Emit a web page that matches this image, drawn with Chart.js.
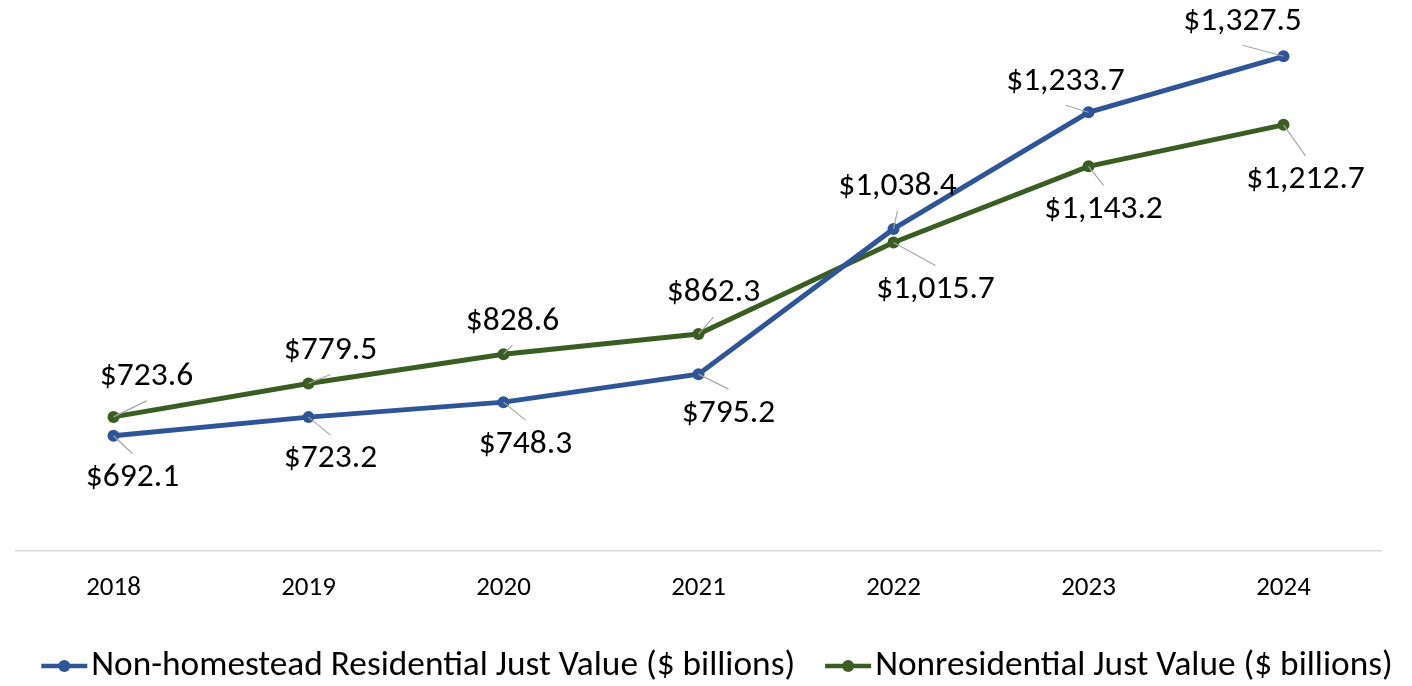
<!DOCTYPE html>
<html>
<head>
<meta charset="utf-8">
<script src="https://cdn.jsdelivr.net/npm/chart.js@4.4.1/dist/chart.umd.min.js"></script>
<style>
  html, body { margin: 0; padding: 0; background: #fff; }
</style>
</head>
<body>
<canvas id="chart" width="1412" height="686"></canvas>
<script>
const years = ['2018', '2019', '2020', '2021', '2022', '2023', '2024'];
const residential = [692.1, 723.2, 748.3, 795.2, 1038.4, 1233.7, 1327.5];
const nonresidential = [723.6, 779.5, 828.6, 862.3, 1015.7, 1143.2, 1212.7];
const seriesNames = ['Non-homestead Residential Just Value ($ billions)', 'Nonresidential Just Value ($ billions)'];

// where each data label sits relative to its point (px)
const residentialOffsets = [[19, 42], [22, 42], [22, 42], [30, 39], [4, -42], [-23, -31], [-41, -35]];
const nonresidentialOffsets = [[33, -40], [22, -33], [9, -33], [15, -41], [42, 47], [15, 43], [22, 55]];

const BLUE = '#2f5597';
const GREEN = '#3b5d24';
const FONT = 'Carlito, Calibri, "Open Sans", sans-serif';

function fmt(v) {
    return '$' + v.toLocaleString('en-US', {minimumFractionDigits: 1, maximumFractionDigits: 1});
}

const labelPlugin = {
    id: 'leaderLabels',
    afterDatasetsDraw(chart) {
        const ctx = chart.ctx;
        const offsets = [residentialOffsets, nonresidentialOffsets];
        ctx.save();
        ctx.font = '33.5px ' + FONT;
        ctx.textAlign = 'center';
        ctx.textBaseline = 'middle';
        chart.data.datasets.forEach((ds, i) => {
            const meta = chart.getDatasetMeta(i);
            meta.data.forEach((pt, j) => {
                const [dx, dy] = offsets[i][j];
                const cx = pt.x + dx, cy = pt.y + dy;
                // leader line: point -> middle of the label box edge that faces it
                const ex = cx;
                const ey = dy < 0 ? cy + 24 : cy - 24;
                if (Math.hypot(ex - pt.x, ey - pt.y) > 8) {
                    ctx.strokeStyle = '#a6a6a6';
                    ctx.lineWidth = 1.2;
                    ctx.beginPath();
                    ctx.moveTo(pt.x, pt.y);
                    ctx.lineTo(ex, ey);
                    ctx.stroke();
                }
                ctx.fillStyle = '#000';
                ctx.fillText(fmt(ds.data[j]), cx, cy);
            });
        });
        ctx.restore();
    }
};

// legend drawn by hand: it is wider than the plot area in the original
const legendPlugin = {
    id: 'wideLegend',
    afterDraw(chart) {
        const ctx = chart.ctx;
        const y = 666;
        const markW = 46, gapText = 4, gapItem = 30;
        ctx.save();
        ctx.font = '35.3px ' + FONT;
        ctx.textBaseline = 'middle';
        const items = chart.data.datasets.map(ds => ({
            text: ds.label,
            color: ds.borderColor,
            w: ctx.measureText(ds.label).width
        }));
        const total = items.reduce((s, it) => s + markW + gapText + it.w, 0) + gapItem * (items.length - 1);
        let x = 717 - total / 2;
        items.forEach(it => {
            ctx.strokeStyle = it.color;
            ctx.lineWidth = 4.5;
            ctx.beginPath();
            ctx.moveTo(x, y);
            ctx.lineTo(x + markW, y);
            ctx.stroke();
            ctx.fillStyle = it.color;
            ctx.beginPath();
            ctx.arc(x + markW / 2, y, 6, 0, Math.PI * 2);
            ctx.fill();
            x += markW + gapText;
            ctx.fillStyle = '#000';
            ctx.fillText(it.text, x, y);
            x += it.w + gapItem;
        });
        ctx.restore();
    }
};

const ctx = document.getElementById('chart').getContext('2d');

new Chart(ctx, {
    type: 'line',
    data: {
        labels: years,
        datasets: [{
            label: seriesNames[0],
            data: residential,
            borderColor: BLUE,
            backgroundColor: BLUE,
            borderWidth: 5,
            pointRadius: 6,
            pointBackgroundColor: BLUE,
            pointBorderWidth: 0,
            tension: 0
        }, {
            label: seriesNames[1],
            data: nonresidential,
            borderColor: GREEN,
            backgroundColor: GREEN,
            borderWidth: 5,
            pointRadius: 6,
            pointBackgroundColor: GREEN,
            pointBorderWidth: 0,
            tension: 0
        }]
    },
    options: {
        responsive: false,
        animation: false,
        layout: {padding: {left: 16, right: 31, top: 13, bottom: 68}},
        scales: {
            x: {
                offset: true,
                grid: {display: false},
                border: {display: true, color: '#d9d9d9', width: 1.5},
                ticks: {color: '#000', font: {family: FONT, size: 27}, padding: 13.6}
            },
            y: {
                display: false,
                min: 500,
                max: 1400
            }
        },
        plugins: {
            tooltip: {enabled: false},
            legend: {display: false}
        }
    },
    plugins: [labelPlugin, legendPlugin]
});
</script>
</body>
</html>
